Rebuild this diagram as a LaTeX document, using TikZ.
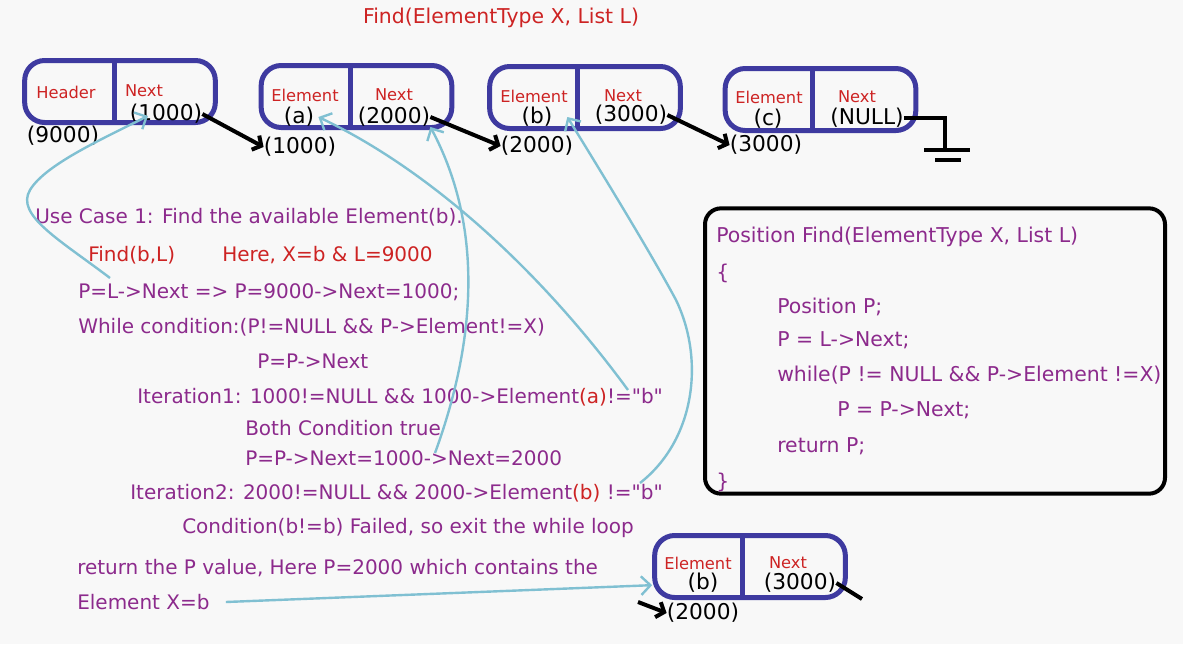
\documentclass[tikz,border=0pt]{standalone}
\usepackage{fontspec}
\setmainfont{DejaVu Sans}[Ligatures=TeXOff]
\usetikzlibrary{arrows.meta,calc}
\definecolor{bg}{RGB}{248,248,248}
\definecolor{ink}{RGB}{140,42,140}
\definecolor{redtxt}{RGB}{205,35,35}
\definecolor{boxblue}{RGB}{62,58,160}
\definecolor{traceblue}{RGB}{128,192,210}
\tikzset{
  txt/.style={font=\fontsize{15}{17}\selectfont, text=ink, anchor=west, inner sep=0pt},
  rtxt/.style={txt, text=redtxt},
  ctxt/.style={txt, font=\fontsize{15.3}{17}\selectfont},
  cel/.style={font=\fontsize{12.2}{14}\selectfont, text=redtxt, inner sep=0pt},
  num/.style={font=\fontsize{16.3}{18}\selectfont, text=black, inner sep=0pt},
  cellbox/.style={draw=boxblue, line width=3.75pt, rounded corners=15pt, minimum width=143pt, minimum height=46.5pt, inner sep=0pt},
  divider/.style={draw=boxblue, line width=3.75pt},
  codebox/.style={draw=black, line width=3pt, rounded corners=12pt, minimum width=345pt, minimum height=214pt, inner sep=0pt},
  ptr/.style={black, line width=3pt, -{Straight Barb[length=5pt,width=12pt]}},
  ptrline/.style={black, line width=3pt},
  trace/.style={traceblue, line width=1.8pt, -{Straight Barb[length=7pt,width=14pt]}},
}
\begin{document}
\begin{tikzpicture}[x=0.75pt,y=-0.75pt]
\fill[bg] (0,0) rectangle (1183,644);
\useasboundingbox (0,0) rectangle (1183,644);

% title
\node[font=\fontsize{15.3}{17}\selectfont, text=redtxt, inner sep=0pt] (title) at (501,18) {Find(ElementType X, List L)};

% list boxes
\node[cellbox] (b1) at (120,91.5) {};
\node[cellbox] (b2) at (356.5,96.5) {};
\node[cellbox] (b3) at (585,97.5) {};
\node[cellbox] (b4) at (820.5,99.5) {};
\node[cellbox] (b5) at (750,566.5) {};
\draw[divider] ($(b1.north west)+(92.5,0)$) -- ($(b1.south west)+(92.5,0)$);
\draw[divider] ($(b2.north west)+(91.5,0)$) -- ($(b2.south west)+(91.5,0)$);
\draw[divider] ($(b3.north west)+(90.5,0)$) -- ($(b3.south west)+(90.5,0)$);
\draw[divider] ($(b4.north west)+(89.5,0)$) -- ($(b4.south west)+(89.5,0)$);
\draw[divider] ($(b5.north west)+(90.5,0)$) -- ($(b5.south west)+(90.5,0)$);

% box 1
\node[cel] (h1) at (66,92) {Header};
\node[cel] (n1) at (144,91) {Next};
\node[num] (p1) at (166,114) {(1000)};
\node[num] (a1) at (63,136) {(9000)};
% box 2
\node[cel] (e2) at (305,95) {Element};
\node[num] (v2) at (299,117) {(a)};
\node[cel] (n2) at (394,95) {Next};
\node[num] (p2) at (394,117) {(2000)};
\node[num] (a2) at (300,147) {(1000)};
% box 3
\node[cel] (e3) at (534,96) {Element};
\node[num] (v3) at (537,117) {(b)};
\node[cel] (n3) at (623,96) {Next};
\node[num] (p3) at (631,115) {(3000)};
\node[num] (a3) at (537,146) {(2000)};
% box 4
\node[cel] (e4) at (769,97) {Element};
\node[num] (v4) at (768,119) {(c)};
\node[cel] (n4) at (857,97) {Next};
\node[num] (p4) at (867,118) {(NULL)};
\node[num] (a4) at (766,145) {(3000)};
% box 5
\node[cel] (e5) at (698,563) {Element};
\node[num] (v5) at (703,583) {(b)};
\node[cel] (n5) at (788,563) {Next};
\node[num] (p5) at (800,583) {(3000)};
\node[num] (a5) at (703,613) {(2000)};

% pointer arrows
\draw[ptr] (p1.east) -- (a2.west);
\draw[ptr] (p2.east) -- (a3.west);
\draw[ptr] (p3.east) -- (a4.west);
\coordinate (in5) at (638,602);
\draw[ptr] (in5) -- (a5.west);
\coordinate (out5) at (862,599);
\draw[ptrline] (p5.east) -- (out5);
% ground
\coordinate (g) at (945,150);
\draw[ptrline] (p4.east) -| (g);
\draw[ptrline] (924,150) -- (970,150);
\draw[ptrline] (935,160) -- (961,160);

% left text
\node[txt] (l1) at (35,217) {Use Case 1: Find the available Element(b).};
\node[rtxt] (l2a) at (88,255) {Find(b,L)};
\node[rtxt] (l2b) at (222,255) {Here, X=b \& L=9000};
\node[txt] (l3) at (78,292) {P=L->Next => P=9000->Next=1000;};
\node[txt] (l4) at (78,327) {While condition:(P!=NULL \&\& P->Element!=X)};
\node[txt] (l5) at (257,361) {P=P->Next};
\node[txt] (l6) at (137,397) {Iteration1: 1000!=NULL \&\& 1000->Element{\color{redtxt}(a)}!="b"};
\node[txt] (l7) at (245,428) {Both Condition true};
\node[txt] (l8) at (245,458) {P=P->Next=1000->Next=2000};
\node[txt] (l9) at (130,493) {Iteration2: 2000!=NULL \&\& 2000->Element{\color{redtxt}(b)} !="b"};
\node[txt] (l10) at (182,528) {Condition(b!=b) Failed, so exit the while loop};
\node[txt] (l11) at (77,568) {return the P value, Here P=2000 which contains the};
\node[txt] (l12) at (77,602) {Element X=b};

% code box
\node[codebox] (code) at (935,351) {};
\node[ctxt] (c1) at (716,237) {Position Find(ElementType X, List L)};
\node[ctxt] (c2) at (716,273) {\{};
\node[ctxt] (c3) at (777,307) {Position P;};
\node[ctxt] (c4) at (777,340) {P = L->Next;};
\node[ctxt] (c5) at (777,375) {while(P != NULL \&\& P->Element !=X)};
\node[ctxt] (c6) at (837,410) {P = P->Next;};
\node[ctxt] (c7) at (777,446) {return P;};
\node[ctxt] (c8) at (716,482) {\}};

% trace arrows
\coordinate (s1) at (110,278);
\draw[trace] (s1) .. controls (60,240) and (15,215) .. (30,190) .. controls (45,165) and (100,140) .. ([shift={(-18,-8)}]p1.south);
\coordinate (s2) at (628,390);
\draw[trace] (s2) .. controls (540,270) and (430,170) .. ([xshift=3pt]v2.east);
\coordinate (s3) at (435,453);
\draw[trace] (s3) .. controls (480,330) and (480,220) .. (p2.south east);
\coordinate (s4) at (640,483);
\draw[trace] (s4) .. controls (695,440) and (705,360) .. (676,300) .. controls (652,255) and (600,170) .. ([xshift=11pt]v3.east);
\draw[trace] ([xshift=12pt]l12.east) -- ([yshift=-14pt]b5.west);
\end{tikzpicture}
\end{document}
